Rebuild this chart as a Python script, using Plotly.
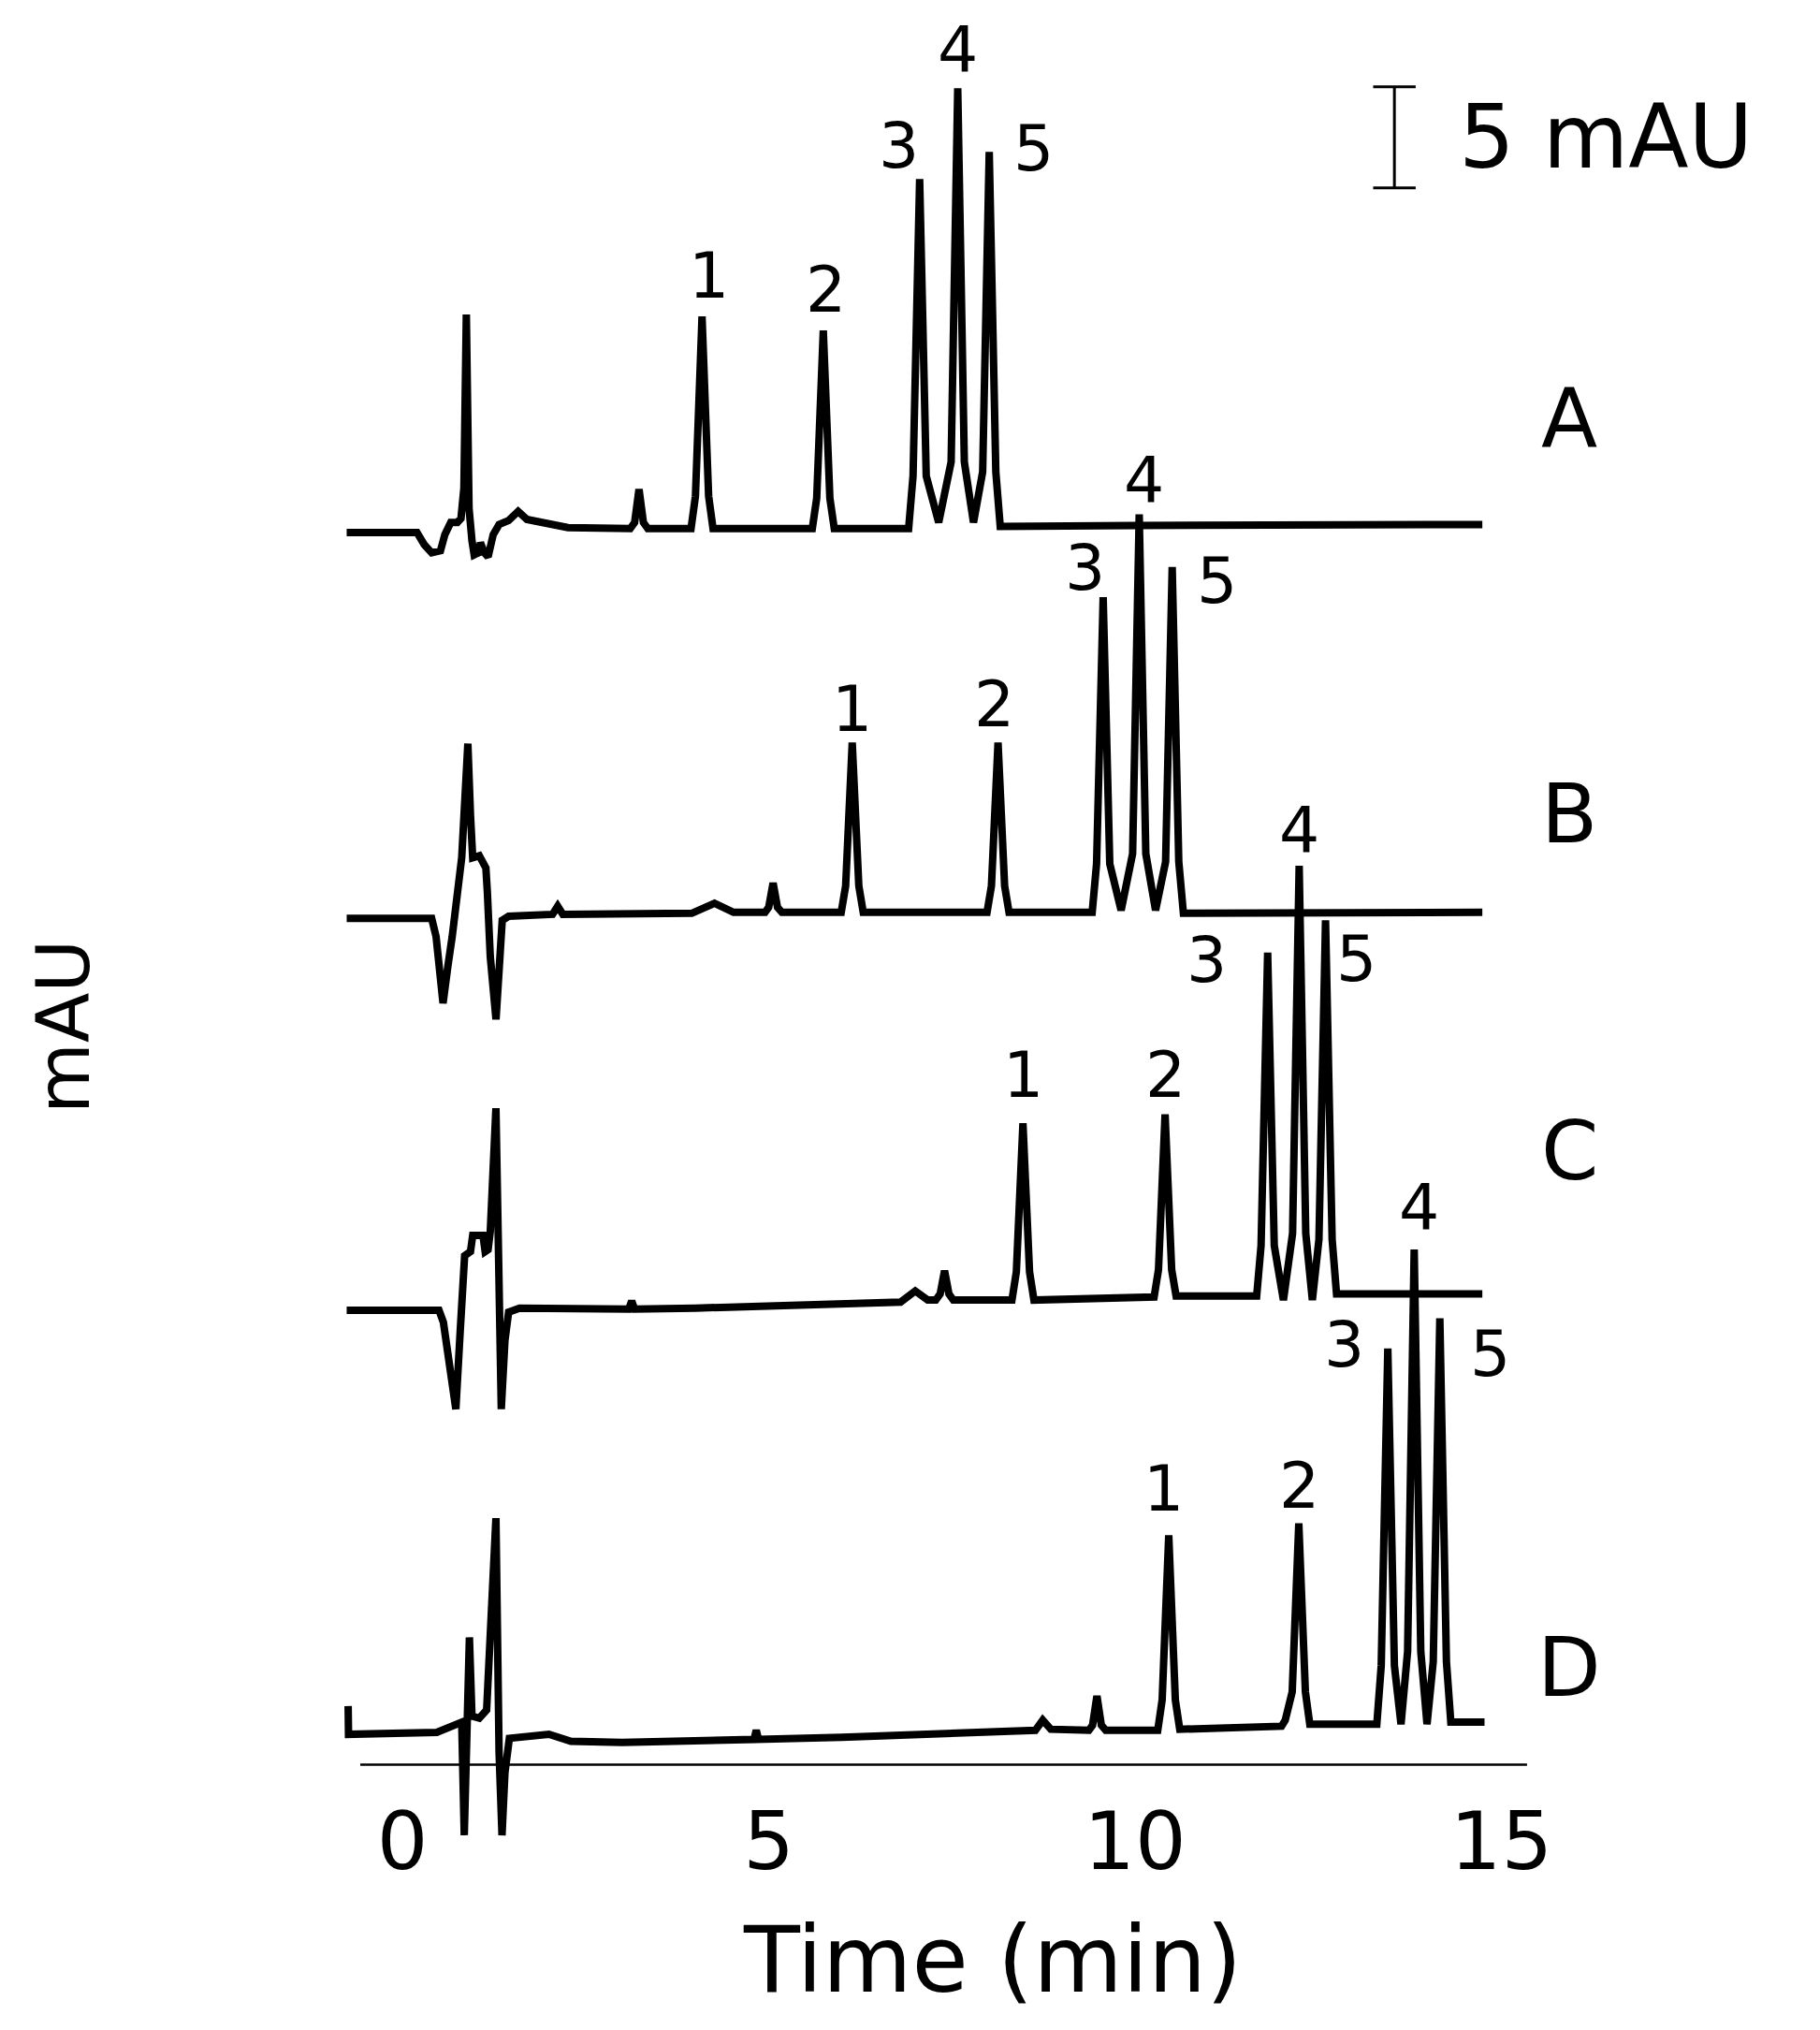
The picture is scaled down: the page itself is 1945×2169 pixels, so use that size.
import plotly.graph_objects as go

# ---------------------------------------------------------------- data
# time in min; signal in mAU above each chromatogram's own baseline
time_ticks = [0, 5, 10, 15]
trace_names = ["A", "B", "C", "D"]
trace_offsets = [59.6, 40.4, 20.9, 0.0]      # vertical stacking, mAU
scale_bar_mAU = 5

A_points = [(-0.76, -0.2), (0.20, -0.2), (0.30, -0.8), (0.40, -1.2), (0.52, -1.1), (0.58, -0.3),
            (0.66, 0.3), (0.75, 0.3), (0.80, 0.5), (0.84, 2.0), (0.873, 10.6), (0.91, 1.0),
            (0.95, -0.6), (0.98, -1.3), (1.04, -1.2), (1.065, -0.7), (1.12, -1.2), (1.17, -1.4),
            (1.24, -0.3), (1.32, 0.2), (1.45, 0.4), (1.58, 0.85), (1.70, 0.45), (1.83, 0.35),
            (2.26, 0.05), (3.11, 0.0), (3.17, 0.3), (3.23, 1.95), (3.29, 0.3), (3.35, 0.0),
            (3.94, 0.0), (4.00, 1.6), (4.09, 10.5), (4.18, 1.6), (4.24, 0.0),
            (5.595, 0.0), (5.655, 1.5), (5.745, 9.8), (5.835, 1.5), (5.895, 0.0),
            (6.91, 0.0), (6.97, 2.6), (7.06, 17.3), (7.15, 2.6), (7.32, 0.3), (7.49, 3.3),
            (7.58, 21.8), (7.67, 3.3), (7.795, 0.3), (7.92, 2.8), (8.01, 18.65), (8.10, 2.8),
            (8.16, 0.1), (10.0, 0.15), (14.74, 0.2)]

B_points = [(-0.76, -0.1), (0.40, -0.1), (0.46, -1.0), (0.555, -4.3), (0.62, -2.5), (0.68, -1.0),
            (0.81, 2.9), (0.894, 8.55), (0.93, 5.0), (0.96, 2.9), (1.05, 3.0), (1.14, 2.4),
            (1.16, 1.2), (1.20, -2.0), (1.278, -5.1), (1.33, -2.0), (1.363, -0.2), (1.45, 0.0),
            (2.05, 0.1), (2.12, 0.5), (2.19, 0.1), (3.95, 0.15), (4.26, 0.65), (4.52, 0.2),
            (4.95, 0.2), (5.00, 0.45), (5.06, 1.65), (5.12, 0.45), (5.18, 0.2),
            (5.99, 0.2), (6.05, 1.5), (6.14, 8.6), (6.23, 1.5), (6.29, 0.2),
            (7.98, 0.2), (8.04, 1.5), (8.13, 8.6), (8.22, 1.5), (8.28, 0.2),
            (9.415, 0.2), (9.475, 2.6), (9.565, 15.8), (9.655, 2.6), (9.81, 0.3),
            (9.967, 3.1), (10.057, 19.9), (10.147, 3.1), (10.28, 0.3), (10.417, 2.7),
            (10.507, 17.3), (10.597, 2.7), (10.66, 0.15), (14.74, 0.2)]

C_points = [(-0.76, 0.0), (0.50, 0.0), (0.56, -0.6), (0.65, -3.0), (0.73, -4.9), (0.79, -1.0),
            (0.85, 2.7), (0.93, 2.9), (0.96, 3.7), (1.10, 3.7), (1.13, 2.9), (1.17, 3.0),
            (1.20, 3.9), (1.277, 10.0), (1.32, -1.5), (1.35, -4.9), (1.40, -1.5), (1.45, -0.1),
            (1.60, 0.1), (3.09, 0.05), (3.13, 0.45), (3.17, 0.05), (4.0, 0.1), (5.5, 0.25),
            (6.80, 0.4), (7.00, 0.95), (7.17, 0.5), (7.28, 0.5), (7.34, 0.8), (7.40, 1.95),
            (7.46, 0.8), (7.52, 0.5), (8.32, 0.5), (8.38, 1.9), (8.47, 9.25), (8.56, 1.9),
            (8.62, 0.5), (10.26, 0.65), (10.32, 2.0), (10.41, 9.7), (10.50, 2.0), (10.56, 0.7),
            (11.66, 0.7), (11.72, 3.2), (11.81, 17.7), (11.90, 3.2), (12.025, 0.5), (12.15, 3.8),
            (12.24, 22.0), (12.33, 3.8), (12.42, 0.5), (12.51, 3.5), (12.60, 19.3), (12.69, 3.5),
            (12.75, 0.8), (14.74, 0.8)]

D_points = [(-0.74, 1.3), (-0.735, -0.1), (0.47, 0.0), (0.81, 0.5), (0.845, -5.1), (0.88, -1.0),
            (0.915, 4.7), (0.95, 0.8), (1.05, 0.7), (1.15, 1.1), (1.277, 10.6), (1.32, -1.0),
            (1.36, -5.1), (1.40, -2.0), (1.46, -0.3), (2.0, -0.1), (2.3, -0.45), (3.0, -0.5),
            (4.0, -0.4), (4.80, -0.35), (4.83, 0.1), (4.86, -0.35), (6.0, -0.25), (8.0, 0.0),
            (8.64, 0.1), (8.74, 0.6), (8.85, 0.15), (9.37, 0.1), (9.42, 0.35), (9.48, 1.8),
            (9.54, 0.35), (9.60, 0.1), (10.31, 0.1), (10.37, 1.6), (10.46, 9.75), (10.55, 1.6),
            (10.61, 0.15), (12.0, 0.3), (12.05, 0.6), (12.145, 2.0), (12.235, 10.35), (12.325, 2.0),
            (12.385, 0.4), (13.30, 0.4), (13.36, 3.3), (13.45, 19.0), (13.54, 3.3), (13.63, 0.4),
            (13.72, 4.0), (13.81, 23.9), (13.90, 4.0), (13.985, 0.4), (14.07, 3.5), (14.16, 20.5),
            (14.25, 3.5), (14.31, 0.5), (14.77, 0.5)]

peak_numbers = ["1", "2", "3", "4", "5"]
A_peaks = [4.09, 5.745, 7.06, 7.58, 8.01]
B_peaks = [6.14, 8.13, 9.565, 10.057, 10.507]
C_peaks = [8.47, 10.41, 11.81, 12.24, 12.60]
D_peaks = [10.46, 12.235, 13.45, 13.81, 14.16]

all_points = [A_points, B_points, C_points, D_points]
all_peaks = [A_peaks, B_peaks, C_peaks, D_peaks]

# ---------------------------------------------------------------- styling / layout
PAGE_MARGIN = 8                    # default body margin of the html page
W, H = 1945 - 2 * PAGE_MARGIN, 2169 - 2 * PAGE_MARGIN
# plot area in page pixels
P_LEFT, P_RIGHT, P_TOP, P_BOTTOM = 300, 1700, 10, 2000
ML = P_LEFT - PAGE_MARGIN
MT = P_TOP - PAGE_MARGIN
MR = W - (P_RIGHT - PAGE_MARGIN)
MB = H - (P_BOTTOM - PAGE_MARGIN)
PX_PER_MIN = 78.3
PX_PER_MAU = 21.58
T_AT_LEFT = -1.6603
V_AT_TOP = 85.306
plot_w = P_RIGHT - P_LEFT
plot_h = P_BOTTOM - P_TOP
x_range = [T_AT_LEFT, T_AT_LEFT + plot_w / PX_PER_MIN]
y_range = [V_AT_TOP - plot_h / PX_PER_MAU, V_AT_TOP]

FONT = "DejaVu Sans"
LINE_W = 8

# label offsets (px): per trace, per peak number
label_shift = [
    [(7, 44), (3, 44), (-22, 36), (0, 41), (47, 4)],
    [(0, 36), (-4, 41), (-19, 32), (5, 36), (48, -15)],
    [(0, 52), (0, 42), (-65, -8), (0, 38), (33, -41)],
    [(-6, 50), (0, 40), (-47, 4), (5, 45), (54, -38)],
]
letter_x = 15.93
letter_dy = [5.5, 5.1, 7.9, 3.2]


def px_to_paper(px, py):
    return (px - P_LEFT) / plot_w, (P_BOTTOM - py) / plot_h


fig = go.Figure()
annotations = []
for name, pts, off, peaks, shifts, ldy in zip(trace_names, all_points, trace_offsets,
                                               all_peaks, label_shift, letter_dy):
    ts = [p[0] for p in pts]
    vs = [p[1] + off for p in pts]
    fig.add_trace(go.Scatter(x=ts, y=vs, mode="lines", name=name, showlegend=False,
                             line=dict(color="black", width=LINE_W), hoverinfo="skip"))
    apex = dict(pts)
    for num, t, (dx, dy) in zip(peak_numbers, peaks, shifts):
        annotations.append(dict(x=t, y=apex[t] + off, xref="x", yref="y", text=num,
                                showarrow=False, xshift=dx, yshift=dy,
                                font=dict(family=FONT, size=68, color="black"),
                                xanchor="center", yanchor="middle"))
    annotations.append(dict(x=letter_x, y=off + ldy, xref="x", yref="y", text=name,
                            showarrow=False, font=dict(family=FONT, size=88, color="black"),
                            xanchor="center", yanchor="middle"))

# scale bar (5 mAU)
bar_t = 13.54
bar_y0 = 76.47
cap = 0.29
shapes = [
    dict(type="line", xref="x", yref="y", x0=-0.575, x1=15.35, y0=-1.6, y1=-1.6,
         line=dict(color="black", width=2.5), layer="below"),
    dict(type="line", xref="x", yref="y", x0=bar_t, x1=bar_t, y0=bar_y0,
         y1=bar_y0 + scale_bar_mAU, line=dict(color="black", width=3)),
    dict(type="line", xref="x", yref="y", x0=bar_t - cap, x1=bar_t + cap, y0=bar_y0,
         y1=bar_y0, line=dict(color="black", width=3)),
    dict(type="line", xref="x", yref="y", x0=bar_t - cap, x1=bar_t + cap,
         y0=bar_y0 + scale_bar_mAU, y1=bar_y0 + scale_bar_mAU,
         line=dict(color="black", width=3)),
]
annotations.append(dict(x=bar_t + 0.85, y=bar_y0 + scale_bar_mAU / 2, xref="x", yref="y",
                        text=f"{scale_bar_mAU} mAU", showarrow=False, xanchor="left",
                        yanchor="middle", font=dict(family=FONT, size=94, color="black")))

xt, yt = px_to_paper(1060, 2094)
annotations.append(dict(x=xt, y=yt, xref="paper", yref="paper", text="Time (min)",
                        showarrow=False, xanchor="center", yanchor="middle",
                        font=dict(family=FONT, size=98, color="black")))
xm, ym = px_to_paper(68, 1097)
annotations.append(dict(x=xm, y=ym, xref="paper", yref="paper", text="mAU", textangle=-90,
                        showarrow=False, xanchor="center", yanchor="middle",
                        font=dict(family=FONT, size=78, color="black")))

axis_px = 1886
fig.update_layout(
    width=W, height=H, autosize=False,
    margin=dict(l=ML, r=MR, t=MT, b=MB),
    paper_bgcolor="white", plot_bgcolor="white",
    showlegend=False,
    shapes=shapes, annotations=annotations,
    xaxis=dict(range=x_range, anchor="free", position=(P_BOTTOM - axis_px) / plot_h,
               showline=False, showgrid=False, zeroline=False, ticks="",
               tickvals=time_ticks, ticktext=[str(t) for t in time_ticks],
               tickfont=dict(family=FONT, size=86, color="black"),
               ticklabelstandoff=24, automargin=False),
    yaxis=dict(range=y_range, showline=False, showgrid=False, zeroline=False,
               showticklabels=False, ticks="", automargin=False),
)

fig.write_html("out.html")
